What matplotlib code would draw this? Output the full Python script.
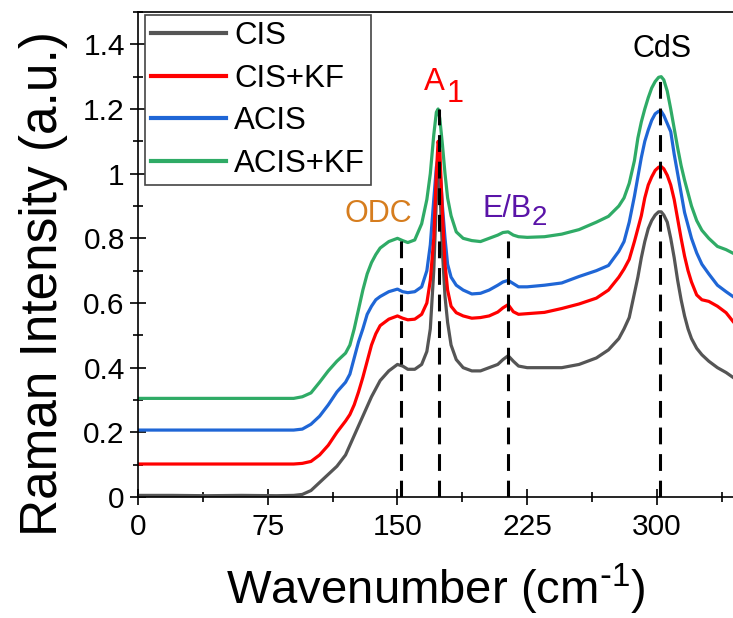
import matplotlib
matplotlib.use('Agg')
import matplotlib.pyplot as plt
from matplotlib.ticker import MultipleLocator, FuncFormatter

plt.rcParams['font.family'] = ['Liberation Sans', 'DejaVu Sans']
plt.rcParams['mathtext.default'] = 'regular'

# Raman shift (cm-1) sampling points
wavenumber = [0, 20, 40, 60, 80, 90, 95, 100, 105, 110, 115, 120, 122.5, 125, 127.5,
              130, 132.5, 135, 137.5, 140, 145, 150, 153, 156, 160, 164, 167, 169, 171,
              172.5, 173.5, 174.5, 176, 177.5, 179, 181, 184, 188, 193, 198, 203, 208,
              211, 214, 217, 220, 225, 235, 245, 255, 265, 272, 278, 281, 284, 287, 289,
              291, 293, 295, 297, 299, 301, 302.5, 304, 306, 308, 310, 312, 314, 316,
              318, 320, 323, 326, 330, 335, 340, 344]

cis = [0.005, 0.005, 0.004, 0.005, 0.004, 0.005, 0.008, 0.02, 0.045, 0.07, 0.095, 0.13,
       0.16, 0.19, 0.22, 0.25, 0.28, 0.31, 0.335, 0.36, 0.39, 0.41, 0.405, 0.395, 0.395,
       0.41, 0.45, 0.52, 0.70, 0.92, 1.0, 0.96, 0.76, 0.62, 0.54, 0.47, 0.425, 0.40,
       0.39, 0.39, 0.40, 0.41, 0.425, 0.437, 0.42, 0.405, 0.40, 0.40, 0.40, 0.41, 0.43,
       0.455, 0.49, 0.52, 0.555, 0.63, 0.68, 0.74, 0.79, 0.83, 0.855, 0.872, 0.882,
       0.882, 0.872, 0.85, 0.80, 0.74, 0.67, 0.61, 0.56, 0.52, 0.49, 0.46, 0.44, 0.42,
       0.40, 0.385, 0.37]

cis_kf = [0.102, 0.102, 0.102, 0.102, 0.102, 0.102, 0.104, 0.11, 0.13, 0.16, 0.20,
          0.235, 0.255, 0.285, 0.325, 0.37, 0.42, 0.47, 0.505, 0.53, 0.55, 0.56, 0.553,
          0.548, 0.55, 0.565, 0.60, 0.67, 0.80, 1.0, 1.10, 1.07, 0.88, 0.72, 0.64, 0.59,
          0.57, 0.56, 0.553, 0.555, 0.56, 0.572, 0.585, 0.595, 0.573, 0.565, 0.567,
          0.571, 0.583, 0.597, 0.615, 0.64, 0.68, 0.705, 0.735, 0.79, 0.83, 0.87, 0.925,
          0.965, 0.99, 1.01, 1.02, 1.022, 1.015, 0.995, 0.965, 0.92, 0.86, 0.80, 0.745,
          0.70, 0.665, 0.625, 0.61, 0.605, 0.59, 0.57, 0.543]

acis = [0.207, 0.207, 0.207, 0.207, 0.207, 0.207, 0.21, 0.225, 0.25, 0.285, 0.325, 0.355,
        0.38, 0.43, 0.48, 0.52, 0.565, 0.59, 0.61, 0.62, 0.635, 0.643, 0.635, 0.632,
        0.635, 0.65, 0.70, 0.78, 0.92, 1.02, 1.05, 1.02, 0.90, 0.80, 0.72, 0.68, 0.655,
        0.64, 0.628, 0.63, 0.64, 0.655, 0.665, 0.67, 0.66, 0.65, 0.65, 0.655, 0.662,
        0.682, 0.70, 0.716, 0.76, 0.79, 0.85, 0.93, 0.99, 1.05, 1.10, 1.135, 1.165,
        1.185, 1.193, 1.193, 1.18, 1.155, 1.13, 1.06, 1.0, 0.94, 0.88, 0.84, 0.80,
        0.755, 0.72, 0.69, 0.655, 0.635, 0.62]

acis_kf = [0.305, 0.305, 0.305, 0.305, 0.305, 0.305, 0.31, 0.322, 0.355, 0.39, 0.42,
           0.445, 0.47, 0.52, 0.58, 0.64, 0.69, 0.725, 0.75, 0.77, 0.79, 0.80, 0.793,
           0.787, 0.795, 0.845, 0.92, 1.0, 1.12, 1.19, 1.20, 1.17, 1.09, 1.0, 0.925,
           0.87, 0.82, 0.80, 0.793, 0.79, 0.80, 0.81, 0.818, 0.82, 0.81, 0.805, 0.803,
           0.805, 0.813, 0.827, 0.85, 0.868, 0.90, 0.925, 0.97, 1.04, 1.11, 1.16, 1.20,
           1.235, 1.265, 1.285, 1.298, 1.30, 1.29, 1.255, 1.20, 1.14, 1.08, 1.025, 0.98,
           0.94, 0.90, 0.855, 0.825, 0.80, 0.775, 0.765, 0.754]

labels = ['CIS', 'CIS+KF', 'ACIS', 'ACIS+KF']
colors = ['#555555', '#ff0000', '#1f66d6', '#2fab66']
z_order = [2.1, 2.4, 2.3, 2.2]

# mode positions and the height the dashed markers reach
peak_pos = [152, 174, 214, 302]
peak_top = [0.80, 1.20, 0.82, 1.30]

fig = plt.figure(figsize=(7.33, 6.18), dpi=100)
ax = fig.add_axes([138 / 733, 121 / 618, 595 / 733, 485 / 618])

for y, lab, c, z in zip([cis, cis_kf, acis, acis_kf], labels, colors, z_order):
    ax.plot(wavenumber, y, color=c, lw=2.3, label=lab, zorder=z)

ax.vlines(peak_pos, 0, peak_top, colors='black', lw=2.2,
          linestyles=[(0, (5.5, 3.2))], zorder=3)

# mode labels (subscripts drawn as separate, nearly full-size text like the original)
ax.text(139, 0.85, 'ODC', color='#d67d1e', fontsize=22, ha='center', va='baseline')
ax.text(165.5, 1.26, 'A', color='#ff0000', fontsize=22.5, va='baseline')
ax.text(178.3, 1.223, '1', color='#ff0000', fontsize=22, va='baseline')
ax.text(199, 0.867, 'E/B', color='#5a14a8', fontsize=22, va='baseline')
ax.text(227.3, 0.842, '2', color='#5a14a8', fontsize=20, va='baseline')
ax.text(303, 1.362, 'CdS', color='black', fontsize=22, ha='center', va='baseline')

ax.set_xlim(0, 344)
ax.set_ylim(0, 1.5)
ax.xaxis.set_major_locator(MultipleLocator(75))
ax.xaxis.set_minor_locator(MultipleLocator(37.5))
ax.yaxis.set_major_locator(MultipleLocator(0.2))
ax.yaxis.set_minor_locator(MultipleLocator(0.1))
ax.yaxis.set_major_formatter(FuncFormatter(lambda v, p: f'{v:g}'))

ax.spines['right'].set_visible(False)
for s in ['left', 'bottom', 'top']:
    ax.spines[s].set_linewidth(1.2)
ax.tick_params(which='major', direction='inout', length=11, width=1.2,
               labelsize=21.5, pad=4)
ax.tick_params(which='minor', direction='inout', length=7, width=1.2)
ax.tick_params(axis='x', which='both', top=False, pad=6)

ax.set_xlabel(r'Wavenumber (cm$^{\text{-}1}$)', fontsize=34, labelpad=15)
ax.set_ylabel('Raman Intensity (a.u.)', fontsize=37)
ax.yaxis.set_label_coords(-0.118, 0.44)

leg = ax.legend(loc='upper left', bbox_to_anchor=(0.012, 0.994), borderaxespad=0,
                fontsize=22.5, handlelength=2.4, handletextpad=0.25, borderpad=0.2,
                labelspacing=0.4, fancybox=False, framealpha=1, edgecolor='#444444')
leg.get_frame().set_linewidth(1.2)
for h in leg.get_lines():
    h.set_linewidth(3)

fig.savefig('out.png', dpi=100)
